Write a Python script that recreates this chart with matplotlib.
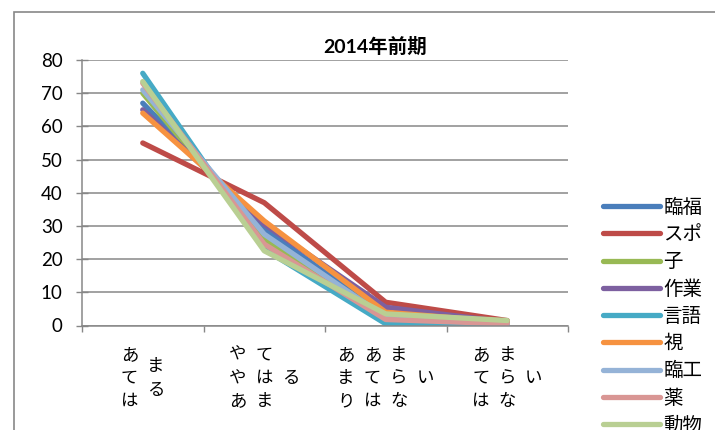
import matplotlib
matplotlib.use("Agg")
import matplotlib.pyplot as plt
import matplotlib.transforms as mtransforms
from matplotlib.patches import Rectangle

plt.rcParams['font.family'] = ['Noto Sans CJK JP', 'DejaVu Sans']

# data (percent of answers)
title = "2014年前期"
categories = ["あてはまる", "ややあてはまる", "あまりあてはまらない", "あてはまらない"]
series_names = ["臨福", "スポ", "子", "作業", "言語", "視", "臨工", "薬", "動物"]
rinpuku = [67, 29, 3, 1]
supo = [55, 37, 7, 1.5]
ko = [70, 26, 3, 1]
sagyo = [65, 30.5, 5.5, 1]
gengo = [76, 23, 0.5, 0.3]
shi = [64, 31.5, 4, 1]
rinko = [71, 27.5, 2.5, 0.5]
yaku = [73, 24.5, 1.8, 0.5]
dobutsu = [73.5, 22.5, 3.5, 1.5]
yticks = [0, 10, 20, 30, 40, 50, 60, 70, 80]

values = [rinpuku, supo, ko, sagyo, gengo, shi, rinko, yaku, dobutsu]
colors = ['#4A7EBB', '#BE4B48', '#98B954', '#7D60A0', '#46AAC5',
          '#F69240', '#95B3D7', '#D99694', '#B9CF93']
grey = '#878787'

fig = plt.figure(figsize=(7.15, 4.3), dpi=100)
ax = fig.add_axes([82/715, 1 - 325.5/430, 486/715, 265.5/430])

# chart border (cut off on right/bottom like the screenshot)
fig.patches.append(Rectangle((14/715, -0.2), 1.2, 1.2 - 12/430, transform=fig.transFigure,
                             fill=False, edgecolor=grey, linewidth=1.2))

x = list(range(len(categories)))
for name, vals, c in zip(series_names, values, colors):
    ax.plot(x, vals, color=c, linewidth=3.8, solid_capstyle='round',
            solid_joinstyle='round', label=name)

ax.set_xlim(-0.5, len(categories) - 0.5)
ax.set_ylim(0, 80)
ax.set_yticks(yticks)
ax.yaxis.grid(True, color=grey, linewidth=1.1)
ax.set_axisbelow(True)
ax.set_xticks([i - 0.5 for i in range(len(categories) + 1)])
ax.set_xticklabels([])
ax.tick_params(axis='x', direction='out', length=4.5, width=1, color=grey)
ax.tick_params(axis='y', direction='inout', length=8, width=1, color=grey, pad=10,
               labelsize=13.5)
for lab in ax.get_yticklabels():
    lab.set_family('Lato')
for s in ['top', 'right']:
    ax.spines[s].set_visible(False)
for s in ['left', 'bottom']:
    ax.spines[s].set_color(grey)
    ax.spines[s].set_linewidth(1.1)

# category labels: stacked vertical columns of three characters
trans = mtransforms.blended_transform_factory(ax.transData, ax.transAxes)
col_step = 26.5 / 121.5
row_step = 23 / 265.5
y_mid = (325.5 - 378) / 265.5
for xi, cat in zip(x, categories):
    cols = [cat[i:i + 3] for i in range(0, len(cat), 3)]
    for j, col in enumerate(cols):
        cx = xi + (j - (len(cols) - 1) / 2) * col_step
        for k, ch in enumerate(col):
            cy = y_mid - (k - (len(col) - 1) / 2) * row_step
            ax.text(cx, cy, ch, transform=trans, ha='center', va='center',
                    fontsize=12.5, clip_on=False)

fig.text(375/715, 1 - 46/430, title, ha='center', va='center', fontsize=14,
         fontweight='bold', family=['Lato', 'Noto Sans CJK JP'])

fig.legend(loc='upper left', bbox_to_anchor=(603/715, 1 - 197/430), frameon=False,
           fontsize=14, handlelength=2.95, handletextpad=0.15, labelspacing=0.32,
           borderpad=0, borderaxespad=0)

fig.savefig('out.png', dpi=100)
